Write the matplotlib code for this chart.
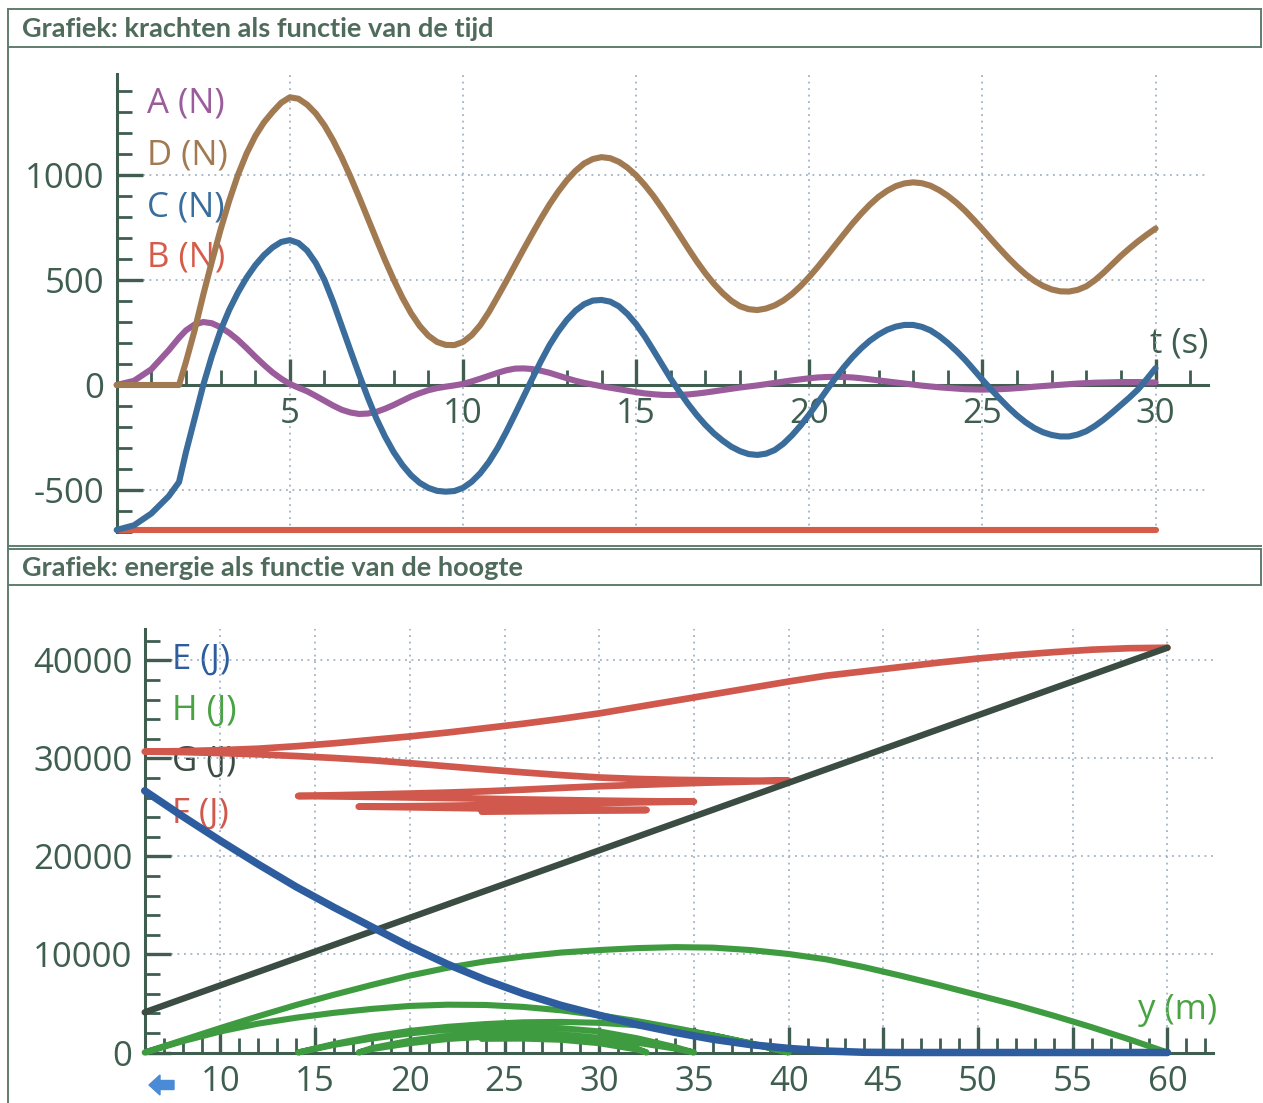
import matplotlib
matplotlib.use("Agg")
import matplotlib.pyplot as plt
import matplotlib.patches as mpatches
from matplotlib.lines import Line2D
from matplotlib.ticker import MultipleLocator
from matplotlib.transforms import IdentityTransform

# ---- top chart: forces vs time (0.25 s steps after t=2) ----
t = [0, 0.5, 1, 1.5, 1.8] + [2 + 0.25 * i for i in range(113)]
force_A = ([0, 20, 75, 165, 225]
           + [260, 288, 300, 294, 275, 248, 215, 176, 135, 96, 60, 30,
              5, -13, -30, -52, -75, -98, -118, -131, -138, -136, -128, -113,
              -95, -75, -55, -39, -25, -15, -8, -2, 5, 17, 30, 44,
              58, 70, 78, 79, 76, 68, 58, 45, 32, 20, 10, 2,
              -6, -13, -20, -27, -34, -40, -44, -47, -48, -47, -45, -41,
              -36, -30, -24, -18, -12, -7, -2, 4, 10, 16, 22, 27,
              32, 36, 38, 39, 38, 36, 32, 27, 22, 17, 12, 7,
              2, -3, -7, -11, -14, -17, -20, -21, -22, -21, -20, -18,
              -15, -12, -8, -5, -2, 1, 4, 7, 9, 11, 12, 13,
              14, 14, 14, 13, 12])
force_D = ([0, 0, 0, 0, 0]
           + [110, 260, 430, 589, 740, 878, 1000, 1102, 1185, 1250, 1300, 1344,
              1370, 1363, 1335, 1293, 1236, 1165, 1083, 992, 895, 794, 693, 594,
              501, 416, 342, 281, 235, 205, 191, 190, 205, 237, 285, 348,
              420, 494, 570, 646, 720, 792, 860, 921, 975, 1020, 1055, 1076,
              1085, 1080, 1063, 1035, 998, 952, 900, 841, 779, 715, 651, 589,
              532, 481, 437, 401, 375, 361, 357, 364, 379, 402, 433, 471,
              515, 563, 614, 666, 718, 769, 816, 859, 896, 925, 947, 960,
              965, 961, 949, 928, 901, 868, 830, 787, 742, 695, 649, 605,
              564, 527, 496, 472, 455, 446, 445, 453, 470, 499, 535, 575,
              615, 651, 685, 716, 745])
force_C = ([-690, -668, -612, -530, -462]
           + [-320, -160, 0, 139, 260, 358, 440, 511, 570, 618, 655, 681,
              690, 676, 640, 581, 500, 396, 280, 164, 50, -59, -160, -246,
              -320, -381, -430, -466, -490, -504, -508, -505, -490, -461, -420, -366,
              -300, -223, -140, -55, 30, 113, 190, 255, 310, 354, 385, 402,
              405, 397, 375, 338, 290, 231, 165, 97, 30, -32, -90, -143,
              -190, -231, -265, -294, -315, -329, -333, -327, -310, -280, -240, -193,
              -140, -83, -25, 32, 85, 133, 175, 211, 240, 263, 278, 286,
              286, 277, 260, 233, 200, 162, 120, 73, 25, -21, -65, -107,
              -145, -178, -205, -225, -238, -245, -245, -236, -220, -195, -165, -131,
              -95, -59, -20, 29, 80])
t_B = [0, 30]
force_B = [-690, -690]

# ---- bottom chart: energy vs height ----
h_E = [6, 8, 10, 12, 14, 16, 18, 20, 22, 24, 26, 28, 30, 32, 34, 36, 38, 40, 42, 44, 46, 60]
energy_E = [26700, 24100, 21600, 19200, 16900, 14800, 12800, 10800, 9000, 7400, 6000, 4800, 3800,
            2850, 2050, 1350, 800, 420, 150, 20, 0, 0]
h_G = [6, 60]
energy_G = [4100, 41300]

# path of the jumper: 60 -> 6 -> 40 -> 14.1 -> 35 -> 17.3 -> 32.5 -> 23.8
h_path = ([60, 58, 56, 54, 52, 50, 48, 46, 44, 42, 40, 38, 36, 34, 32, 30, 28, 26, 24, 22, 20, 18, 16, 14, 12, 10, 8, 6]
          + [8, 10, 12, 14, 16, 18, 20, 22, 24, 26, 28, 30, 32, 34, 36, 38, 40]
          + [38, 36, 34, 32, 30, 28, 26, 24, 22, 20, 18, 16, 14.1]
          + [16, 18, 20, 22, 24, 26, 28, 30, 32, 34, 35]
          + [34, 32, 30, 28, 26, 24, 22, 20, 18, 17.3]
          + [18, 20, 22, 24, 26, 28, 30, 32, 32.5]
          + [32, 30, 28, 26, 24, 23.8])
energy_F = ([41300, 41250, 41100, 40850, 40550, 40200, 39800, 39350, 38900, 38450, 37850, 37200, 36550, 35900,
             35250, 34600, 34050, 33550, 33100, 32650, 32250, 31900, 31550, 31250, 31000, 30850, 30750, 30700]
            + [30650, 30550, 30420, 30250, 30050, 29820, 29520, 29200, 28880, 28580, 28300, 28060, 27910, 27820,
               27770, 27740, 27730]
            + [27650, 27550, 27430, 27300, 27170, 27000, 26820, 26650, 26520, 26420, 26330, 26250, 26170]
            + [26130, 26080, 26020, 25960, 25890, 25820, 25760, 25700, 25650, 25610, 25600]
            + [25580, 25520, 25450, 25380, 25310, 25240, 25180, 25130, 25100, 25090]
            + [25070, 25020, 24960, 24900, 24850, 24800, 24770, 24750, 24745]
            + [24730, 24690, 24650, 24610, 24575, 24570])
energy_H = ([0, 1330, 2580, 3750, 4850, 5850, 6850, 7800, 8700, 9500, 10050, 10450, 10700, 10750,
             10650, 10450, 10200, 9800, 9300, 8650, 7850, 6900, 5900, 4850, 3700, 2500, 1250, 0]
            + [1150, 2150, 2950, 3550, 4050, 4450, 4750, 4880, 4850, 4650, 4300, 3800, 3200, 2500, 1750, 900, 0]
            + [950, 1750, 2350, 2780, 3030, 3120, 3080, 2900, 2620, 2200, 1620, 870, 0]
            + [780, 1420, 1950, 2330, 2550, 2600, 2480, 2150, 1450, 550, 0]
            + [400, 1000, 1500, 1850, 2000, 1950, 1700, 1200, 450, 0]
            + [350, 950, 1380, 1620, 1680, 1550, 1150, 380, 0]
            + [300, 950, 1300, 1420, 1400, 1390])

W, H = 1263, 1103
axcol = "#3f5e50"
gridcol = "#9fb3c6"
fs = 25

plt.rcParams["font.family"] = ["Open Sans", "DejaVu Sans"]

fig = plt.figure(figsize=(W / 100, H / 100), dpi=100)


def fx(px):
    return px / W


def fy(py):
    return 1 - py / H


# frame and title bars
framecol = "#5f7d6e"
for y0 in [9, 46.5, 546, 548.5, 585]:
    fig.add_artist(Line2D([fx(8), fx(1261)], [fy(y0), fy(y0)], color=framecol, lw=1.4))
fig.add_artist(Line2D([fx(8), fx(8)], [fy(9), 0], color=framecol, lw=1.4))
fig.add_artist(Line2D([fx(1261), fx(1261)], [fy(9), fy(46.5)], color=framecol, lw=1.4))
fig.add_artist(Line2D([fx(1261), fx(1261)], [fy(548.5), fy(585)], color=framecol, lw=1.4))
fig.text(fx(22), fy(29), "Grafiek: krachten als functie van de tijd", family="Lato",
         weight="bold", fontsize=19.5, color="#4f6b5b", va="center")
fig.text(fx(22), fy(568), "Grafiek: energie als functie van de hoogte", family="Lato",
         weight="bold", fontsize=19.5, color="#4f6b5b", va="center")


def style_axes(ax, xmaj, ymaj, xmin, ymin):
    for s in ["top", "right"]:
        ax.spines[s].set_visible(False)
    for s in ["left", "bottom"]:
        ax.spines[s].set_color(axcol)
        ax.spines[s].set_linewidth(2.2)
    ax.set_xticks(xmaj, labels=[str(v) for v in xmaj])
    ax.set_yticks(ymaj, labels=[str(v) for v in ymaj])
    ax.xaxis.set_minor_locator(MultipleLocator(xmin))
    ax.yaxis.set_minor_locator(MultipleLocator(ymin))
    ax.tick_params(which="major", direction="in", length=19, width=2.4, color=axcol,
                   labelcolor=axcol, labelsize=fs)
    ax.tick_params(which="minor", direction="in", length=11, width=2.0, color=axcol)
    ax.tick_params(axis="x", pad=9)
    ax.tick_params(axis="y", pad=9)
    ax.grid(True, which="major", ls=(0, (1, 2.6)), color=gridcol, lw=1.3)
    ax.set_facecolor("none")


# ---- top axes ----
ax1 = fig.add_axes([fx(116.7), fy(532), (1207.5 - 116.7) / W, (532 - 74.2) / H])
ax1.set_xlim(0, 31.5)
ax1.set_ylim(-700, 1480)
ax1.spines["bottom"].set_position(("data", 0))
style_axes(ax1, [5, 10, 15, 20, 25, 30], [-500, 0, 500, 1000], 1, 100)

lw1 = 4.4
kw = dict(clip_on=False, solid_capstyle="round", solid_joinstyle="round")
ax1.plot(t_B, force_B, color="#d65c4a", lw=lw1, zorder=4, **kw)
ax1.plot(t, force_A, color="#9b5c9c", lw=lw1, zorder=5, **kw)
ax1.plot(t, force_D, color="#a27a52", lw=lw1, zorder=6, **kw)
ax1.plot(t, force_C, color="#3a6d9c", lw=lw1, zorder=7, **kw)

labels_top = [("A (N)", "#9b5c9c", 104), ("D (N)", "#a27a52", 156),
              ("C (N)", "#3a6d9c", 207), ("B (N)", "#d65c4a", 258)]
for txt, col, py in labels_top:
    ax1.text(fx(147), fy(py), txt, transform=fig.transFigure, color=col, fontsize=fs,
             va="center", ha="left", zorder=1)
ax1.text(fx(1208), fy(343), "t (s)", transform=fig.transFigure, color=axcol, fontsize=fs,
         va="center", ha="right", zorder=1)

# ---- bottom axes ----
ax2 = fig.add_axes([fx(144.7), fy(1052.5), (1212.9 - 144.7) / W, (1052.5 - 629.1) / H])
ax2.set_xlim(6, 62.4)
ax2.set_ylim(0, 43200)
style_axes(ax2, [10, 15, 20, 25, 30, 35, 40, 45, 50, 55, 60],
           [0, 10000, 20000, 30000, 40000], 1, 2000)

ax2.plot(h_path, energy_H, color="#3f9b3f", lw=4.4, zorder=4, **kw)
ax2.plot(h_path, energy_F, color="#d0584c", lw=4.8, zorder=5, **kw)
ax2.plot(h_G, energy_G, color="#3b4d42", lw=4.6, zorder=6, **kw)
ax2.plot(h_E, energy_E, color="#2d5d9e", lw=5.4, zorder=7, **kw)

labels_bot = [("E (J)", "#2d5d9e", 660), ("H (J)", "#4aa343", 711),
              ("G (J)", "#3b4d42", 762), ("F (J)", "#d0584c", 814)]
for txt, col, py in labels_bot:
    ax2.text(fx(172), fy(py), txt, transform=fig.transFigure, color=col, fontsize=fs,
             va="center", ha="left", zorder=1)
ax2.text(fx(1217), fy(1010), "y (m)", transform=fig.transFigure, color="#4aa343", fontsize=fs,
         va="center", ha="right", zorder=1)

# small scroll arrow at bottom left
arrow = mpatches.FancyArrow(174, H - 1085, -25, 0, width=9, head_width=20, head_length=11,
                            length_includes_head=True, color="#4a8ad6", transform=IdentityTransform())
fig.add_artist(arrow)

fig.savefig("out.png", dpi=100)
